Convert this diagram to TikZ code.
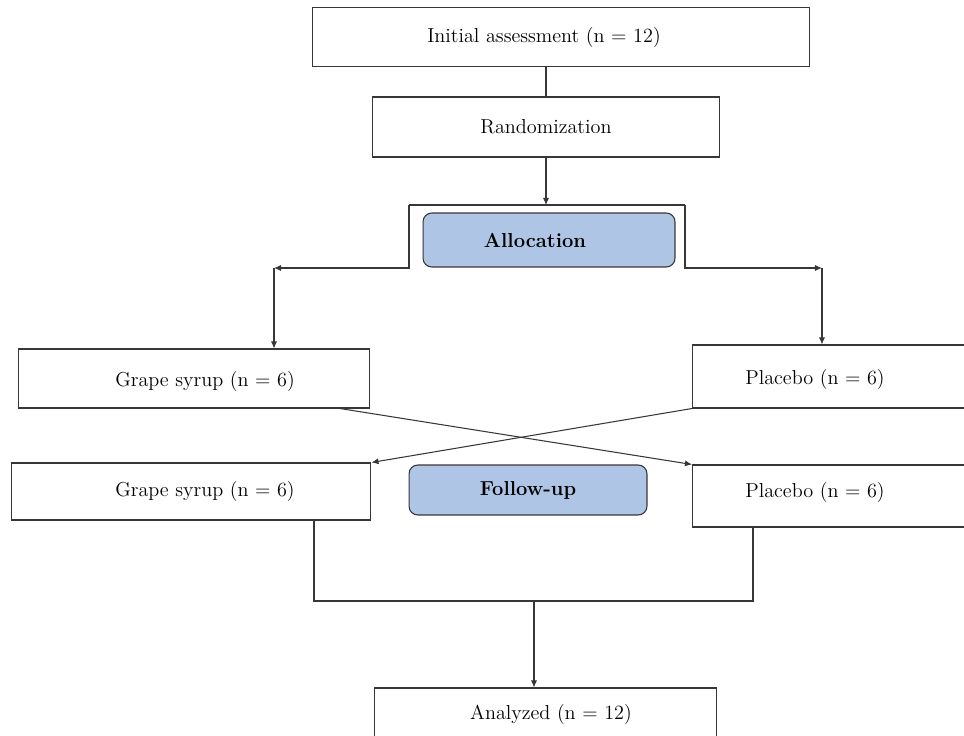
\documentclass[tikz,border=0pt]{standalone}
\usepackage{tikz}
\usetikzlibrary{arrows.meta, positioning}
\definecolor{phaseBlue}{RGB}{175, 197, 230}
\definecolor{lineGray}{RGB}{55, 55, 55}

\begin{document}
\begin{tikzpicture}[x=0.02cm, y=-0.02cm,
  box/.style={rectangle, draw=lineGray, fill=white, line width=0.6pt},
  phase/.style={rectangle, rounded corners=5pt, draw=lineGray, fill=phaseBlue,
                line width=0.6pt},
  txt/.style={font=\fontsize{11.5}{13}\selectfont},
  bold/.style={font=\fontsize{11.5}{13}\selectfont\bfseries},
  flow/.style={-{Latex[length=4pt, width=3.5pt]}, line width=0.6pt, lineGray},
  link/.style={line width=0.6pt, lineGray},
]
  \useasboundingbox (0,0) rectangle (964,736);
  \clip (0,0) rectangle (964,736);

  % enrolment and randomization
  \node[box, minimum width=9.96cm, minimum height=1.18cm,
        label={[txt, xshift=-0.34cm]center:Initial assessment (n = 12)}] (init) at (561,37) {};
  \node[box, txt, minimum width=6.96cm, minimum height=1.2cm] (rand) at (546,127) {Randomization};
  \draw[link] (rand.north |- init.south) -- (rand.north);

  % allocation bracket
  \node[phase, minimum width=5.04cm, minimum height=1.08cm,
        label={[bold, xshift=-0.28cm]center:Allocation}] (alloc) at (549,240) {};
  \coordinate (bt) at (546,205);
  \coordinate (btl) at (409,205);
  \coordinate (btr) at (685,205);
  \coordinate (bl) at (409,268);
  \coordinate (br) at (685,268);
  \coordinate (al) at (274,268);
  \coordinate (ar) at (822,268);
  \draw[flow] (rand.south) -- (bt);
  \draw[link] (btl) -- (btr);
  \draw[flow] (btl) -- (bl) -- (al);
  \draw[flow] (btr) -- (br) -- (ar);

  % first period groups
  \node[box, minimum width=7.04cm, minimum height=1.18cm,
        label={[txt, xshift=0.22cm, yshift=-0.06cm]center:Grape syrup (n = 6)}] (gs1) at (194,378.5) {};
  \node[box, minimum width=5.5cm, minimum height=1.26cm,
        label={[txt, xshift=-0.3cm, yshift=-0.06cm]center:Placebo (n = 6)}] (pl1) at (830,376.5) {};
  \draw[flow] (al) -- (gs1.north -| al);
  \draw[flow] (ar) -- (pl1.north -| ar);

  % crossover
  \node[box, minimum width=7.2cm, minimum height=1.14cm,
        label={[txt, xshift=0.28cm]center:Grape syrup (n = 6)}] (gs2) at (191,491.5) {};
  \node[box, minimum width=5.5cm, minimum height=1.24cm,
        label={[txt, xshift=-0.3cm, yshift=0.08cm]center:Placebo (n = 6)}] (pl2) at (830,496) {};
  \node[phase, bold, minimum width=4.76cm, minimum height=1.0cm] (follow) at (528,490) {Follow-up};
  \coordinate (gx) at (340,408);
  \draw[flow] (gs1.south -| gx) -- (pl2.north west);
  \draw[flow] (pl1.south west) -- (gs2.north east);

  % merge and analysis
  \node[box, minimum width=6.86cm, minimum height=1.04cm,
        label={[txt, xshift=0.11cm]center:Analyzed (n = 12)}] (anal) at (545.5,714) {};
  \coordinate (jl) at (314,601);
  \coordinate (jr) at (753,601);
  \coordinate (jm) at (534,601);
  \draw[link] (gs2.south -| jl) -- (jl) -- (jr) -- (pl2.south -| jr);
  \draw[flow] (jm) -- (anal.north -| jm);
\end{tikzpicture}
\end{document}
